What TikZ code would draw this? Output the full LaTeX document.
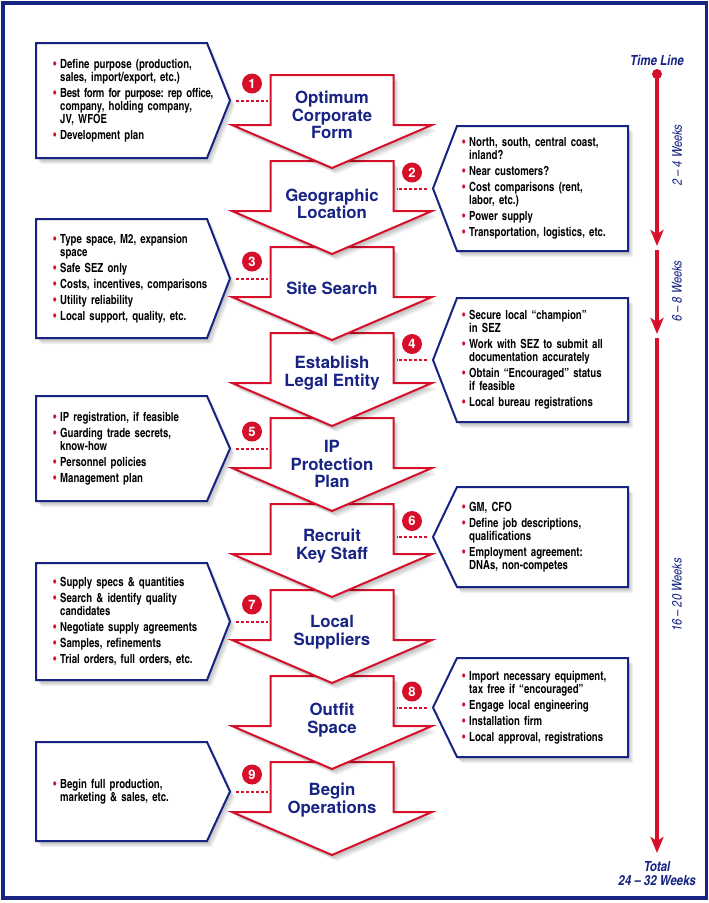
\documentclass[tikz,border=0pt]{standalone}
\usepackage{fontspec}
\usetikzlibrary{arrows.meta}
\setmainfont{TeX Gyre Heros}
\newfontfamily\cnfont{texgyreheroscn}[Extension=.otf,UprightFont=*-regular,BoldFont=*-bold,ItalicFont=*-italic,BoldItalicFont=*-bolditalic]
\newfontfamily\cnbox{texgyreheroscn}[Extension=.otf,UprightFont=*-bold,FakeStretch=0.93]
\newfontfamily\cnboxtight{texgyreheroscn}[Extension=.otf,UprightFont=*-bold,FakeStretch=0.93,LetterSpace=-2.5]
\frenchspacing
\definecolor{bl}{RGB}{24,36,132}
\definecolor{rd}{RGB}{214,16,42}
\newcommand\bi[1]{\hangindent=7pt\hangafter=1\noindent\makebox[7pt][l]{\textcolor{rd}{\textbullet}}#1\par}
\newcommand\bsep{\vspace{3pt}}
\newcommand\LeftBox[4]{%
  \pgfmathsetmacro\ym{(#2+#3)/2}
  \foreach \s in {1,...,5}{\fill[black,opacity=0.05,shift={(\s,{\s+1})}] (36,#2) -- (207,#2) -- (230,\ym) -- (207,#3) -- (36,#3) -- cycle;}
  \draw[outline] (36,#2) -- (207,#2) -- (230,\ym) -- (207,#3) -- (36,#3) -- cycle;
  \node[boxtext] (#1) at (53,\ym) {#4};
  \coordinate (#1tip) at (230,\ym);
  \coordinate (#1sh) at (270.5,\ym);
  \coordinate (#1num) at (252,\ym-17);
}
\newcommand\RightBox[4]{%
  \pgfmathsetmacro\ym{(#2+#3)/2}
  \foreach \s in {1,...,5}{\fill[black,opacity=0.05,shift={(\s,{\s+1})}] (457,#2) -- (628,#2) -- (628,#3) -- (457,#3) -- (433,\ym) -- cycle;}
  \draw[outline] (457,#2) -- (628,#2) -- (628,#3) -- (457,#3) -- (433,\ym) -- cycle;
  \node[boxtext] (#1) at (462,\ym) {#4};
  \coordinate (#1tip) at (433,\ym);
  \coordinate (#1sh) at (393.5,\ym);
  \coordinate (#1num) at (412,\ym-16);
}
\newcommand\StepArrow[4]{%
  \foreach \s in {1,...,5}{\fill[black,opacity=0.05,shift={(\s,{\s+1})}] (270.5,#2) -- (393.5,#2) -- (393.5,{#2+50}) -- (432,{#2+50}) -- (332,{#2+93}) -- (232,{#2+50}) -- (270.5,{#2+50}) -- cycle;}
  \draw[arrowshape] (270.5,#2) -- (393.5,#2) -- (393.5,{#2+50}) -- (432,{#2+50}) -- (332,{#2+93}) -- (232,{#2+50}) -- (270.5,{#2+50}) -- cycle;
  \node[arrtext] (#1) at (332,#4) {#3};
}
\begin{document}
\begin{tikzpicture}[x=1pt,y=-1pt,
  boxtext/.style={anchor=west,inner sep=0pt,text width=190pt,font=\cnbox\fontsize{12.6}{13}\selectfont},
  arrtext/.style={align=center,text=bl,inner sep=0pt,font=\bfseries\fontsize{16.8}{17.5}\selectfont},
  stepnum/.style={circle,fill=rd,text=white,minimum size=20pt,inner sep=0pt,font=\bfseries\fontsize{13}{13}\selectfont},
  link/.style={rd,line width=2pt,dash pattern=on 3pt off 2pt},
  outline/.style={draw=bl,line width=2pt,fill=white,line join=miter},
  arrowshape/.style={draw=rd,line width=2pt,fill=white,line join=miter},
  tl/.style={rd,line width=3.5pt,-{Stealth[length=16pt,width=13pt,inset=4pt]}},
  wk/.style={rotate=90,text=bl,inner sep=0pt,font=\cnfont\itshape\fontsize{13.5}{13.5}\selectfont}
]
\useasboundingbox (0,0) rectangle (709,903);
\fill[white] (0,0) rectangle (709,903);

% ---- side boxes
\LeftBox{b1}{43}{158}{\bi{Define purpose (production,\newline sales, import/export, etc.)}\bsep
 \bi{{\cnboxtight Best form for purpose: rep office,}\newline company, holding company,\newline JV, WFOE}\bsep
 \bi{Development plan}}
\RightBox{b2}{126}{251}{\bi{North, south, central coast,\newline inland?}\bsep
 \bi{Near customers?}\bsep
 \bi{Cost comparisons (rent,\newline labor, etc.)}\bsep
 \bi{Power supply}\bsep
 \bi{Transportation, logistics, etc.}}
\LeftBox{b3}{219}{338}{\bi{Type space, M2, expansion\newline space}\bsep
 \bi{Safe SEZ only}\bsep
 \bi{Costs, incentives, comparisons}\bsep
 \bi{Utility reliability}\bsep
 \bi{Local support, quality, etc.}}
\RightBox{b4}{298}{422}{\bi{Secure local “champion”\newline in SEZ}\bsep
 \bi{Work with SEZ to submit all\newline documentation accurately}\bsep
 \bi{Obtain “Encouraged” status\newline if feasible}\bsep
 \bi{Local bureau registrations}}
\LeftBox{b5}{396}{501}{\bi{IP registration, if feasible}\bsep
 \bi{Guarding trade secrets,\newline know-how}\bsep
 \bi{Personnel policies}\bsep
 \bi{Management plan}}
\RightBox{b6}{487}{587}{\bi{GM, CFO}\bsep
 \bi{Define job descriptions,\newline qualifications}\bsep
 \bi{Employment agreement:\newline DNAs, non-competes}}
\LeftBox{b7}{563}{680}{\bi{Supply specs \& quantities}\bsep
 \bi{Search \& identify quality\newline candidates}\bsep
 \bi{Negotiate supply agreements}\bsep
 \bi{Samples, refinements}\bsep
 \bi{Trial orders, full orders, etc.}}
\RightBox{b8}{658}{757}{\bi{Import necessary equipment,\newline tax free if “encouraged”}\bsep
 \bi{Engage local engineering}\bsep
 \bi{Installation firm}\bsep
 \bi{Local approval, registrations}}
\LeftBox{b9}{742}{841}{\bi{Begin full production,\newline marketing \& sales, etc.}}

% ---- arrows (bottom first so upper tips overlap)
\StepArrow{a9}{762}{Begin\\Operations}{800}
\StepArrow{a8}{676}{Outfit\\Space}{720}
\StepArrow{a7}{590}{Local\\Suppliers}{632}
\StepArrow{a6}{504}{Recruit\\Key Staff}{546}
\StepArrow{a5}{418}{IP\\Protection\\Plan}{464}
\StepArrow{a4}{333}{Establish\\Legal Entity}{373}
\StepArrow{a3}{247}{Site Search}{288}
\StepArrow{a2}{161}{Geographic\\Location}{204}
\StepArrow{a1}{75}{Optimum\\Corporate\\Form}{115}

% ---- numbers and dashed links
\foreach \i in {1,...,9}{
  \node[stepnum] (n\i) at (b\i num) {\i};
  \draw[link,shorten <=6pt,shorten >=3pt] (b\i tip) -- (b\i sh);
}

% ---- time line
\node[text=bl,inner sep=0pt,font=\cnfont\bfseries\itshape\fontsize{14}{14}\selectfont] (tlt) at (657,60) {Time Line};
\node[circle,fill=rd,minimum size=10pt,inner sep=0pt] (tl0) at (657,74) {};
\coordinate (tl1) at (657,246);
\coordinate (tl1s) at (657,250);
\coordinate (tl2) at (657,334);
\coordinate (tl2s) at (657,338);
\coordinate (tl3) at (657,853);
\draw[tl] (tl0.center) -- (tl1);
\draw[tl] (tl1s) -- (tl2);
\draw[tl] (tl2s) -- (tl3);
\node[wk] (w1) at (677,155) {2 – 4 Weeks};
\node[wk] (w2) at (677,291) {6 – 8 Weeks};
\node[wk] (w3) at (677,595) {16 – 20 Weeks};
\node[text=bl,align=center,inner sep=0pt,font=\cnfont\bfseries\itshape\fontsize{14}{14}\selectfont] (tot) at (657,874) {Total\\24 – 32 Weeks};

% ---- frame
\draw[bl,line width=3.5pt] (3,3) rectangle (706.5,898);
\end{tikzpicture}
\end{document}
